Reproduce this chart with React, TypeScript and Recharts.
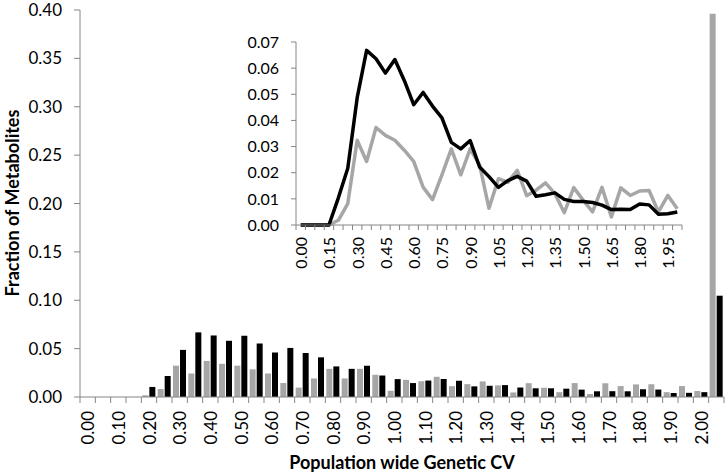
import { BarChart, Bar, LineChart, Line, XAxis, YAxis } from 'recharts'

// CV bins (lower edge), last bin collects everything above 2.00
const CV_BINS = [
  '0.00', '0.05', '0.10', '0.15', '0.20', '0.25', '0.30', '0.35', '0.40', '0.45',
  '0.50', '0.55', '0.60', '0.65', '0.70', '0.75', '0.80', '0.85', '0.90', '0.95',
  '1.00', '1.05', '1.10', '1.15', '1.20', '1.25', '1.30', '1.35', '1.40', '1.45',
  '1.50', '1.55', '1.60', '1.65', '1.70', '1.75', '1.80', '1.85', '1.90', '1.95',
  '2.00', '>2.00'
]

const GRAY_FRACTION = [
  0, 0, 0, 0, 0.0018, 0.0082, 0.0324, 0.0243, 0.0373, 0.0343,
  0.0324, 0.0286, 0.0243, 0.0145, 0.0097, 0.0192, 0.0291, 0.0192, 0.0291, 0.0230,
  0.0064, 0.0177, 0.0163, 0.0209, 0.0112, 0.0133, 0.0161, 0.0120, 0.0047, 0.0143,
  0.0095, 0.0050, 0.0144, 0.0031, 0.0142, 0.0113, 0.0130, 0.0132, 0.0050, 0.0113,
  0.0062, 0.396
]

const BLACK_FRACTION = [
  0, 0, 0, 0, 0.0104, 0.0217, 0.0487, 0.0668, 0.0636, 0.0581,
  0.0633, 0.0553, 0.0460, 0.0507, 0.0455, 0.0410, 0.0316, 0.0291, 0.0323, 0.0222,
  0.0185, 0.0144, 0.0170, 0.0186, 0.0168, 0.0110, 0.0116, 0.0123, 0.0098, 0.0090,
  0.0090, 0.0086, 0.0076, 0.0059, 0.0060, 0.0059, 0.0080, 0.0077, 0.0041, 0.0043,
  0.0050, 0.1047
]

const MAIN_Y_TICKS = [0, 0.05, 0.1, 0.15, 0.2, 0.25, 0.3, 0.35, 0.4]
const INSET_Y_TICKS = [0, 0.01, 0.02, 0.03, 0.04, 0.05, 0.06, 0.07]
const INSET_BIN_COUNT = 41 // inset shows 0.00 .. 2.00 only

const mainData = CV_BINS.map((bin, i) => ({
  bin,
  gray: GRAY_FRACTION[i],
  black: BLACK_FRACTION[i]
}))
const insetData = mainData.slice(0, INSET_BIN_COUNT)

const FONT = 'Lato, "Open Sans", sans-serif'
const AXIS_COLOR = '#868686'
const GRAY = '#A6A6A6'

// main chart geometry
const MAIN_W = 728
const MAIN_H = 476
const MAIN_LEFT = 80
const MAIN_RIGHT = 4
const MAIN_TOP = 10
const MAIN_XAXIS_H = 79
const MAIN_AXIS_Y = MAIN_H - MAIN_XAXIS_H
const MAIN_BAND = (MAIN_W - MAIN_LEFT - MAIN_RIGHT) / CV_BINS.length

// inset geometry
const INSET_X = 226
const INSET_Y = 30
const INSET_W = 458
const INSET_H = 250
const INSET_LEFT = 70
const INSET_RIGHT = 2
const INSET_TOP = 12
const INSET_XAXIS_H = 55
const INSET_AXIS_Y = INSET_H - INSET_XAXIS_H
const INSET_STEP = (INSET_W - INSET_LEFT - INSET_RIGHT) / INSET_BIN_COUNT

function MainXTick(props: any) {
  const { x, payload } = props
  const idx = CV_BINS.indexOf(payload.value)
  const half = MAIN_BAND / 2
  const ty = MAIN_AXIS_Y + 14
  return (
    <g>
      <line x1={x - half} x2={x - half} y1={MAIN_AXIS_Y} y2={MAIN_AXIS_Y + 6} stroke={AXIS_COLOR} />
      {idx === CV_BINS.length - 1 && (
        <line x1={x + half} x2={x + half} y1={MAIN_AXIS_Y} y2={MAIN_AXIS_Y + 6} stroke={AXIS_COLOR} />
      )}
      {idx % 2 === 0 && (
        <text
          x={x}
          y={ty}
          transform={`rotate(-90, ${x}, ${ty})`}
          textAnchor="end"
          dominantBaseline="central"
          fontSize={17}
          fontFamily={FONT}
          fill="#000"
        >
          {payload.value}
        </text>
      )}
    </g>
  )
}

function InsetXTick(props: any) {
  const { x, payload } = props
  const idx = CV_BINS.indexOf(payload.value)
  const half = INSET_STEP / 2
  const ty = INSET_AXIS_Y + 12
  return (
    <g>
      <line x1={x - half} x2={x - half} y1={INSET_AXIS_Y} y2={INSET_AXIS_Y + 5} stroke={AXIS_COLOR} />
      {idx === INSET_BIN_COUNT - 1 && (
        <line x1={x + half} x2={x + half} y1={INSET_AXIS_Y} y2={INSET_AXIS_Y + 5} stroke={AXIS_COLOR} />
      )}
      {idx % 3 === 0 && (
        <text
          x={x}
          y={ty}
          transform={`rotate(-90, ${x}, ${ty})`}
          textAnchor="end"
          dominantBaseline="central"
          fontSize={16}
          fontFamily={FONT}
          fill="#000"
        >
          {payload.value}
        </text>
      )}
    </g>
  )
}

export default function App() {
  return (
    <div
      style={{
        position: 'absolute',
        left: 0,
        top: 0,
        width: MAIN_W,
        height: MAIN_H,
        background: '#fff',
        fontFamily: FONT
      }}
    >
      <BarChart
        width={MAIN_W}
        height={MAIN_H}
        data={mainData}
        margin={{ top: MAIN_TOP, right: MAIN_RIGHT, bottom: 0, left: 0 }}
        barCategoryGap={1}
        barGap={1}
      >
        <XAxis
          dataKey="bin"
          height={MAIN_XAXIS_H}
          interval={0}
          tickLine={false}
          stroke={AXIS_COLOR}
          tick={(p: any) => <MainXTick {...p} />}
        />
        <YAxis
          width={MAIN_LEFT}
          domain={[0, 0.4]}
          ticks={MAIN_Y_TICKS}
          interval={0}
          tickFormatter={(v: number) => v.toFixed(2)}
          stroke={AXIS_COLOR}
          tickSize={6}
          tickMargin={12}
          tick={{ fill: '#000', fontSize: 17, fontFamily: FONT }}
        />
        <Bar dataKey="gray" fill={GRAY} isAnimationActive={false} />
        <Bar dataKey="black" fill="#000" isAnimationActive={false} />
      </BarChart>

      <div style={{ position: 'absolute', left: INSET_X, top: INSET_Y }}>
        <LineChart
          width={INSET_W}
          height={INSET_H}
          data={insetData}
          margin={{ top: INSET_TOP, right: INSET_RIGHT, bottom: 0, left: 0 }}
        >
          <XAxis
            dataKey="bin"
            height={INSET_XAXIS_H}
            interval={0}
            tickLine={false}
            stroke={AXIS_COLOR}
            padding={{ left: INSET_STEP / 2, right: INSET_STEP / 2 }}
            tick={(p: any) => <InsetXTick {...p} />}
          />
          <YAxis
            width={INSET_LEFT}
            domain={[0, 0.07]}
            ticks={INSET_Y_TICKS}
            interval={0}
            tickFormatter={(v: number) => v.toFixed(2)}
            stroke={AXIS_COLOR}
            tickSize={5}
            tickMargin={12}
            tick={{ fill: '#000', fontSize: 16, fontFamily: FONT }}
          />
          <Line
            dataKey="gray"
            stroke={GRAY}
            strokeWidth={3.5}
            strokeLinejoin="round"
            dot={false}
            isAnimationActive={false}
          />
          <Line
            dataKey="black"
            stroke="#000"
            strokeWidth={3.5}
            strokeLinejoin="round"
            dot={false}
            isAnimationActive={false}
          />
        </LineChart>
      </div>

      <div
        style={{
          position: 'absolute',
          left: MAIN_LEFT,
          width: MAIN_W - MAIN_LEFT - MAIN_RIGHT,
          top: 451,
          textAlign: 'center',
          fontSize: 18,
          fontWeight: 700,
          color: '#000'
        }}
      >
        Population wide Genetic CV
      </div>
      <div
        style={{
          position: 'absolute',
          left: 11.5 - 150,
          top: 203 - 11,
          width: 300,
          height: 22,
          lineHeight: '22px',
          textAlign: 'center',
          fontSize: 18,
          fontWeight: 700,
          color: '#000',
          transform: 'rotate(-90deg)'
        }}
      >
        Fraction of Metabolites
      </div>
    </div>
  )
}
